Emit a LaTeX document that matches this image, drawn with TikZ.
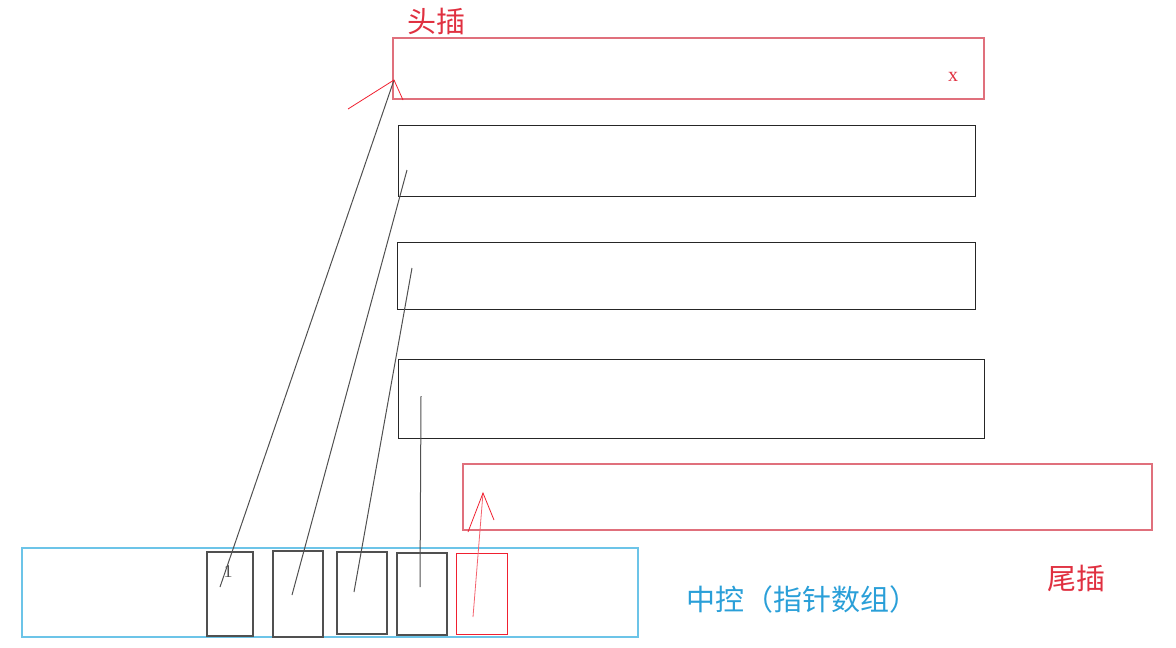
\documentclass[tikz,border=0pt]{standalone}
\usepackage{fontspec}
\setmainfont{Liberation Serif}
\newfontfamily\cjk{Noto Sans CJK SC}
\definecolor{boxred}{HTML}{E0707C}
\definecolor{penred}{HTML}{F02030}
\definecolor{txtred}{HTML}{E03040}
\definecolor{ctlblue}{HTML}{6CC4E8}
\definecolor{txtblue}{HTML}{2A9FD8}
\definecolor{inkgray}{HTML}{505050}
\begin{document}
\begin{tikzpicture}[x=1pt,y=-1pt,
  blk/.style={draw=black!85,line width=1pt},
  redbox/.style={draw=boxred,line width=1.1pt},
  slot/.style={draw=inkgray,line width=1.1pt},
  ptr/.style={draw=inkgray,line width=1pt},
  pen/.style={draw=penred,line width=0.8pt},
  lbl/.style={font=\cjk\fontsize{29}{32}\selectfont,inner sep=0pt,anchor=west}]
\useasboundingbox (0,0) rectangle (1176,648);
% blocks
\draw[redbox] (393,38) rectangle (984,99);
\coordinate (h) at (394,80);
\draw[blk] (398,125) rectangle (975,196);
\draw[blk] (397,242) rectangle (975,309);
\draw[blk] (398,359) rectangle (984,438);
\draw[redbox] (463,464) rectangle (1152,530);
% central control
\draw[draw=ctlblue,line width=1.1pt] (22,548) rectangle (638,637);
\draw[slot] (207,552) rectangle (253,636);
\draw[slot] (273,551) rectangle (323,637);
\draw[slot] (337,552) rectangle (387,634);
\draw[slot] (397,553) rectangle (447,635);
\draw[draw=penred,line width=0.9pt] (456,553) rectangle (507,634);
% pointers
\coordinate (s1) at (220,587);
\coordinate (s2) at (292,595);
\coordinate (s3) at (354,592);
\coordinate (s4) at (420,587);
\coordinate (s5) at (473,617);
\coordinate (b1) at (407,170);
\coordinate (b2) at (412,268);
\coordinate (b3) at (421,396);
\coordinate (t) at (483,493);
\draw[ptr] (s1) -- (h);
\draw[ptr] (s2) -- (b1);
\draw[ptr] (s3) -- (b2);
\draw[ptr] (s4) -- (b3);
% hand-drawn red arrows
\coordinate (ha) at (348,109);
\coordinate (hb) at (403,100);
\draw[pen] (ha) -- (h) -- (hb);
\coordinate (ta) at (468,532);
\coordinate (tb) at (494,520);
\draw[pen,draw=penred!70] (s5) -- (t);
\draw[pen] (ta) -- (t) -- (tb);
% labels
\node[lbl,text=txtred] (head) at (407,21) {头插};
\node[lbl,text=txtred] (tail) at (1047,578) {尾插};
\node[lbl,text=txtblue] (ctl) at (686,599) {中控（指针数组）};
\node[text=txtred,font=\fontsize{20}{21}\selectfont,inner sep=0pt] (x) at (953,77) {x};
\node[text=inkgray,font=\fontsize{18}{19}\selectfont,inner sep=0pt] (one) at (228,572) {1};
\end{tikzpicture}
\end{document}
